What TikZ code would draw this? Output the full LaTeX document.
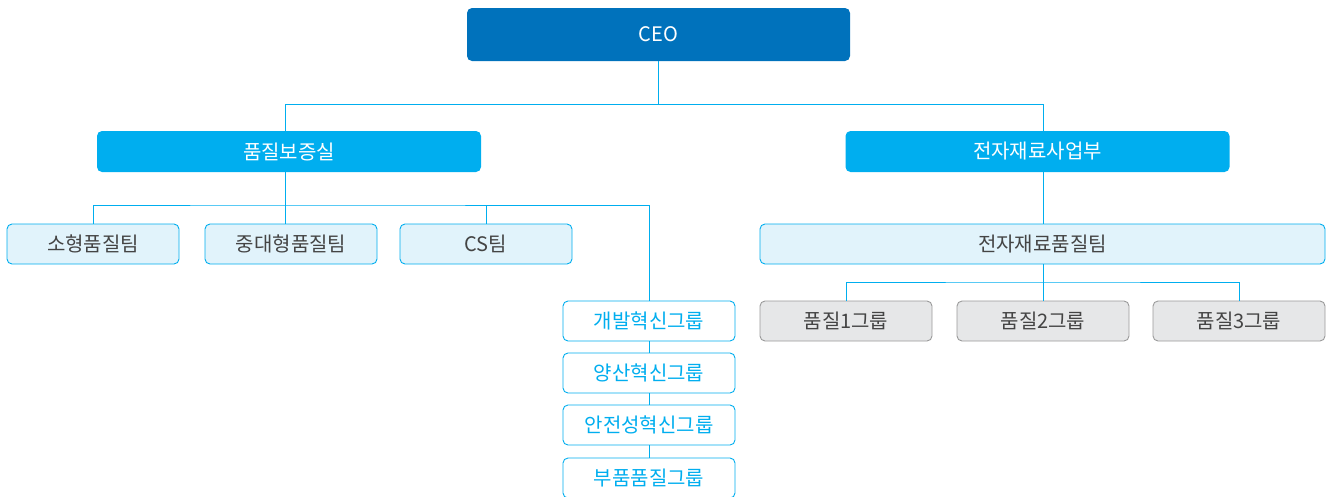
\documentclass[tikz,border=0pt]{standalone}
\usepackage{fontspec}
\setmainfont{Noto Sans CJK KR}
\definecolor{ceoblue}{HTML}{0072BC}
\definecolor{skyblue}{HTML}{00AEEF}
\definecolor{paleblue}{HTML}{E1F3FB}
\definecolor{palegray}{HTML}{E6E7E8}
\definecolor{bordgray}{HTML}{9A9A9A}
\definecolor{txtgray}{HTML}{444444}
\begin{document}
\begin{tikzpicture}[x=1pt,y=-1pt,
  box/.style={rectangle,rounded corners=5pt,inner sep=0pt,minimum height=40pt,font=\fontsize{20}{24}\selectfont},
  ceobox/.style={box,fill=ceoblue,text=white,minimum width=383pt,minimum height=53pt},
  divbox/.style={box,fill=skyblue,text=white,minimum width=384pt,minimum height=41pt},
  teambox/.style={box,fill=paleblue,draw=skyblue,line width=0.9pt,text=txtgray,minimum width=172pt},
  grpbox/.style={box,fill=white,draw=skyblue,line width=0.9pt,text=skyblue,minimum width=172pt},
  graybox/.style={box,fill=palegray,draw=bordgray,line width=0.9pt,text=txtgray,minimum width=172pt},
  conn/.style={draw=skyblue,line width=0.8pt}]
\useasboundingbox (0,0) rectangle (1327,496);
\node[ceobox] (ceo) at (658.5,34.5) {CEO};
\node[divbox] (qa) at (289,151.5) {품질보증실};
\node[divbox] (em) at (1037.5,151.5) {전자재료사업부};
\node[teambox] (t1) at (93,244) {소형품질팀};
\node[teambox] (t2) at (291,244) {중대형품질팀};
\node[teambox] (t3) at (486,244) {CS팀};
\node[grpbox] (g1) at (649,321) {개발혁신그룹};
\node[grpbox] (g2) at (649,373) {양산혁신그룹};
\node[grpbox] (g3) at (649,425) {안전성혁신그룹};
\node[grpbox] (g4) at (649,478) {부품품질그룹};
\node[teambox,minimum width=565pt] (emt) at (1042.5,244) {전자재료품질팀};
\node[graybox] (r1) at (846,321) {품질1그룹};
\node[graybox] (r2) at (1043,321) {품질2그룹};
\node[graybox] (r3) at (1239,321) {품질3그룹};
\coordinate (top) at (658.5,104);
\coordinate (lt) at (285,104);
\coordinate (rt) at (1043,104);
\coordinate (lb) at (285,205);
\coordinate (rb) at (1043,282);
\draw[conn] (ceo.south) -- (top);
\draw[conn] (lt |- qa.north) -- (lt) -- (rt) -- (rt |- em.north);
\draw[conn] (lt |- qa.south) -- (lb);
\draw[conn] (t1.north) |- (lb) -| (g1.north);
\draw[conn] (lb |- t2.north) -- (lb);
\draw[conn] (t3.north) -- (t3.north |- lb);
\draw[conn] (g1) -- (g2);
\draw[conn] (g2) -- (g3);
\draw[conn] (g3) -- (g4);
\draw[conn] (rt |- em.south) -- (rt |- emt.north);
\draw[conn] (rt |- emt.south) -- (rb);
\draw[conn] (r1.north) |- (rb) -| (r3.north);
\draw[conn] (r2.north) -- (r2.north |- rb);
\end{tikzpicture}
\end{document}
